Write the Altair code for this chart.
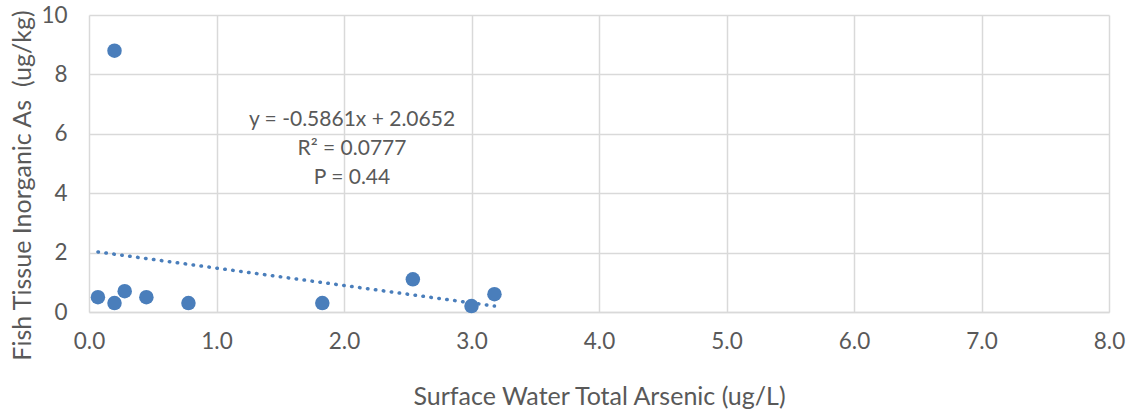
import altair as alt
import pandas as pd

# Data
water_as = [0.07, 0.20, 0.28, 0.45, 0.78, 1.83, 2.54, 3.00, 3.18, 0.20]
fish_as = [0.50, 0.30, 0.70, 0.50, 0.30, 0.30, 1.10, 0.20, 0.60, 8.80]
annotation_lines = ["y = -0.5861x + 2.0652", "R² = 0.0777", "P = 0.44"]
x_ticks = [0, 1, 2, 3, 4, 5, 6, 7, 8]
y_ticks = [0, 2, 4, 6, 8, 10]

df = pd.DataFrame({"x": water_as, "y": fish_as})
ann = pd.DataFrame({"k": [0]})

FONT = "Lato"
TXT = "#595959"
BLUE = "#4a7ebb"
GRID = "#d9d9d9"

xscale = alt.Scale(domain=[0, 8], nice=False, zero=True)
yscale = alt.Scale(domain=[0, 10], nice=False)

xenc = alt.X("x:Q", scale=xscale,
             axis=alt.Axis(title="Surface Water Total Arsenic (ug/L)", values=x_ticks,
                           format=".1f", labelPadding=18, titlePadding=32,
                           titleFontSize=25))
yenc = alt.Y("y:Q", scale=yscale,
             axis=alt.Axis(title="Fish Tissue Inorganic As \u00a0(ug/kg)", values=y_ticks,
                           format="d", labelPadding=22, titlePadding=5,
                           titleFontSize=25, titleY=170))

points = alt.Chart(df).mark_circle(size=210, color=BLUE, opacity=1).encode(x=xenc, y=yenc)

trend = alt.Chart(df).transform_regression("x", "y").mark_line(
    color=BLUE, strokeDash=[0.5, 7.5], strokeWidth=3.5, strokeCap="round"
).encode(x=alt.X("x:Q", scale=xscale), y=alt.Y("y:Q", scale=yscale))

label = alt.Chart(ann).mark_text(
    text=annotation_lines, font=FONT, fontSize=21, color=TXT,
    align="center", baseline="middle", lineHeight=29
).encode(x=alt.value(263), y=alt.value(105))

chart = alt.layer(trend, points, label).properties(
    width=1020, height=297,
    autosize=alt.AutoSizeParams(type="none"),
    padding={"left": 89, "top": 15, "right": 22, "bottom": 108},
).configure_view(stroke=None).configure_axis(
    grid=True, gridColor=GRID, gridWidth=1.5,
    domainColor=GRID, domainWidth=1.5,
    ticks=False, labelFont=FONT, labelFontSize=22.5, labelColor=TXT,
    labelFlush=False,
    titleFont=FONT, titleColor=TXT, titleFontWeight="normal",
).configure_axisY(domain=False)

chart.save("out.html", embed_options={"renderer": "svg", "actions": False})
